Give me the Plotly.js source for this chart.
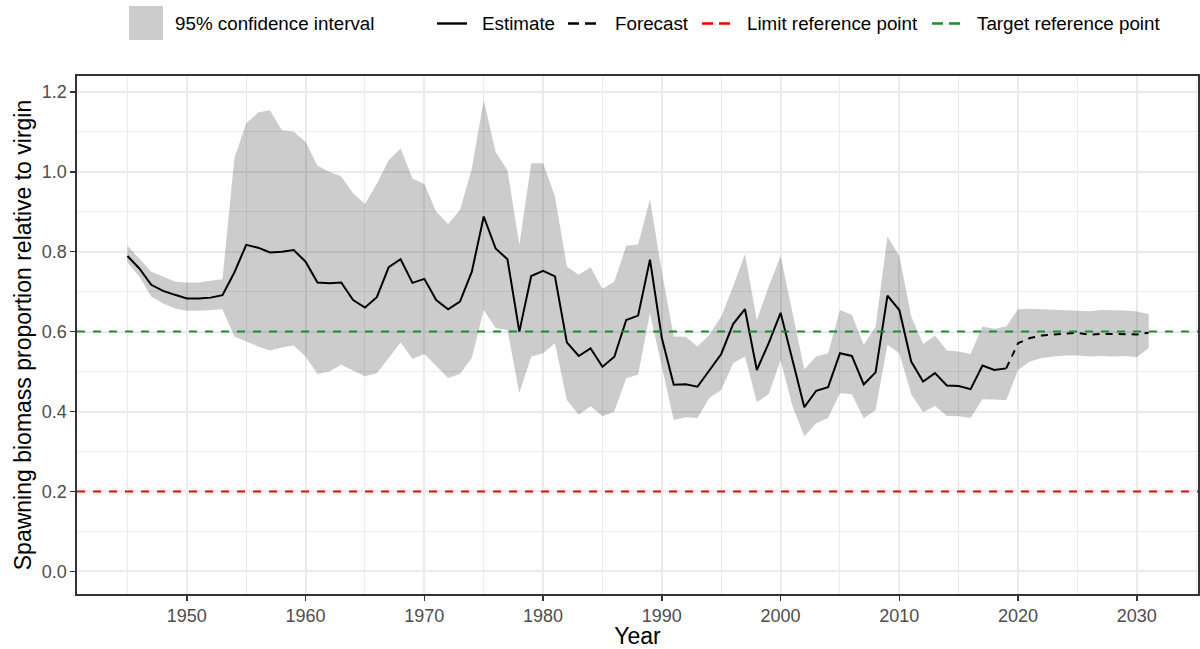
<!DOCTYPE html>
<html>
<head>
<meta charset="utf-8">
<script src="https://cdn.plot.ly/plotly-3.0.1.min.js"></script>
<style>html,body{margin:0;padding:0;background:#fff;}#chart{width:1200px;height:649px;}</style>
</head>
<body>
<div id="chart"></div>
<script>
// ---- data ----
const estYears = [];
for (let y = 1945; y <= 2019; y++) estYears.push(y);
const estimate = [0.789,0.758,0.717,0.702,0.692,0.683,0.683,0.685,0.691,0.748,
  0.817,0.810,0.798,0.800,0.804,0.775,0.723,0.721,0.723,0.679,
  0.660,0.686,0.761,0.781,0.722,0.732,0.679,0.656,0.675,0.750,
  0.888,0.808,0.781,0.600,0.739,0.752,0.738,0.573,0.539,0.558,
  0.512,0.537,0.629,0.640,0.780,0.584,0.467,0.468,0.462,0.504,
  0.544,0.619,0.656,0.504,0.571,0.647,0.525,0.411,0.452,0.461,
  0.546,0.539,0.468,0.498,0.690,0.654,0.525,0.475,0.496,0.465,
  0.464,0.456,0.515,0.504,0.508];
const fcYears = [2020,2021,2022,2023,2024,2025,2026,2027,2028,2029,2030,2031];
const forecast = [0.571,0.584,0.590,0.593,0.595,0.597,0.592,0.594,0.594,0.593,0.593,0.597];
const ciYears = estYears.concat(fcYears);
const ciUpper = [0.815,0.783,0.750,0.738,0.725,0.723,0.723,0.727,0.731,1.033,
  1.121,1.148,1.154,1.104,1.100,1.075,1.015,1.000,0.988,0.946,
  0.919,0.970,1.029,1.058,0.983,0.969,0.900,0.869,0.904,1.008,
  1.179,1.050,1.004,0.817,1.021,1.021,0.938,0.763,0.742,0.761,
  0.707,0.725,0.815,0.818,0.931,0.750,0.588,0.587,0.563,0.592,
  0.638,0.713,0.794,0.629,0.713,0.789,0.646,0.506,0.538,0.546,
  0.654,0.642,0.567,0.613,0.838,0.789,0.638,0.569,0.590,0.553,
  0.550,0.544,0.613,0.607,0.613,
  0.656,0.657,0.656,0.654,0.653,0.653,0.651,0.654,0.653,0.653,0.650,0.644];
const ciLower = [0.773,0.738,0.688,0.670,0.658,0.652,0.652,0.654,0.656,0.588,
  0.575,0.563,0.553,0.560,0.565,0.538,0.494,0.500,0.517,0.502,
  0.488,0.496,0.534,0.573,0.532,0.544,0.514,0.484,0.494,0.534,
  0.654,0.609,0.604,0.446,0.538,0.546,0.571,0.429,0.392,0.413,
  0.388,0.400,0.483,0.492,0.646,0.510,0.379,0.386,0.384,0.434,
  0.454,0.521,0.538,0.423,0.444,0.529,0.413,0.338,0.371,0.384,
  0.446,0.443,0.383,0.404,0.567,0.546,0.443,0.398,0.414,0.389,
  0.388,0.384,0.431,0.430,0.428,
  0.504,0.525,0.534,0.538,0.540,0.540,0.538,0.539,0.538,0.539,0.536,0.559];
const limitRef = 0.2;
const targetRef = 0.6;
const xTicks = [1950,1960,1970,1980,1990,2000,2010,2020,2030];
const yTicks = [0.0,0.2,0.4,0.6,0.8,1.0,1.2];
const legendLabels = ["95% confidence interval","Estimate","Forecast","Limit reference point","Target reference point"];

// ---- layout geometry ----
const W = 1200, H = 649;
const M = {l: 77, r: 2, t: 76, b: 55};
const pw = W - M.l - M.r, ph = H - M.t - M.b;
const px = x => (x - M.l) / pw;
const py = y => (H - M.b - y) / ph;

const FONT = "Liberation Sans, Arial, Helvetica, sans-serif";
const GREEN = "#228B22", RED = "#FF0000";

// forecast line joins the last estimate
const fcX = [estYears[estYears.length-1]].concat(fcYears);
const fcY = [estimate[estimate.length-1]].concat(forecast);

const traces = [
  {x: ciYears, y: ciLower, type: "scatter", mode: "lines", line: {width: 0}, hoverinfo: "skip", showlegend: false},
  {x: ciYears, y: ciUpper, type: "scatter", mode: "lines", line: {width: 0}, fill: "tonexty",
   fillcolor: "rgba(0,0,0,0.2)", showlegend: false, name: legendLabels[0]},
  {x: estYears, y: estimate, type: "scatter", mode: "lines", line: {color: "#000", width: 2}, showlegend: false, name: legendLabels[1]},
  {x: fcX, y: fcY, type: "scatter", mode: "lines", line: {color: "#000", width: 2, dash: "7px,6px"}, showlegend: false, name: legendLabels[2]}
];

const keyY = 23.5;
const keyDash = "11px,6px";
const shapes = [
  {type: "line", xref: "paper", x0: 0, x1: 1, yref: "y", y0: limitRef, y1: limitRef,
   line: {color: RED, width: 2, dash: "8px,8px"}, layer: "above"},
  {type: "line", xref: "paper", x0: 0, x1: 1, yref: "y", y0: targetRef, y1: targetRef,
   line: {color: GREEN, width: 2, dash: "8px,8px"}, layer: "above"},
  // legend keys
  {type: "rect", xref: "paper", yref: "paper", x0: px(129), x1: px(163), y0: py(40), y1: py(6),
   fillcolor: "#CCCCCC", line: {width: 0}},
  {type: "line", xref: "paper", yref: "paper", x0: px(437), x1: px(467), y0: py(keyY), y1: py(keyY),
   line: {color: "#000", width: 2.4}},
  {type: "line", xref: "paper", yref: "paper", x0: px(568), x1: px(596), y0: py(keyY), y1: py(keyY),
   line: {color: "#000", width: 2.4, dash: keyDash}},
  {type: "line", xref: "paper", yref: "paper", x0: px(702), x1: px(730), y0: py(keyY), y1: py(keyY),
   line: {color: RED, width: 2.4, dash: keyDash}},
  {type: "line", xref: "paper", yref: "paper", x0: px(932), x1: px(960), y0: py(keyY), y1: py(keyY),
   line: {color: GREEN, width: 2.4, dash: keyDash}}
];

const legX = [173, 480, 613, 745, 975];
const annotations = legendLabels.map((t, i) => ({
  text: t, xref: "paper", yref: "paper", x: px(legX[i]), y: py(keyY),
  xanchor: "left", yanchor: "middle", showarrow: false,
  font: {family: FONT, size: 18.8, color: "#000"}
}));

const layout = {
  width: W, height: H,
  margin: M,
  paper_bgcolor: "#fff", plot_bgcolor: "#fff",
  font: {family: FONT},
  showlegend: false,
  xaxis: {
    range: [1940.75, 2035.15], tickvals: xTicks, ticktext: xTicks.map(String),
    showgrid: true, gridcolor: "#EBEBEB", gridwidth: 2,
    minor: {dtick: 5, tick0: 1945, showgrid: true, gridcolor: "#EBEBEB", gridwidth: 1},
    showline: true, mirror: true, linecolor: "#333333", linewidth: 1.6,
    ticks: "outside", ticklen: 5, tickwidth: 1.6, tickcolor: "#333333",
    tickfont: {family: FONT, size: 18, color: "#4D4D4D"},
    title: {text: "Year", font: {family: FONT, size: 23, color: "#000"}, standoff: 4},
    zeroline: false, automargin: false
  },
  yaxis: {
    range: [-0.0565, 1.2395], tickvals: yTicks, ticktext: yTicks.map(v => v.toFixed(1)),
    showgrid: true, gridcolor: "#EBEBEB", gridwidth: 2,
    minor: {dtick: 0.1, tick0: 0, showgrid: true, gridcolor: "#EBEBEB", gridwidth: 1},
    showline: true, mirror: true, linecolor: "#333333", linewidth: 1.6,
    ticks: "outside", ticklen: 5, tickwidth: 1.6, tickcolor: "#333333",
    tickfont: {family: FONT, size: 18, color: "#4D4D4D"},
    title: {text: "Spawning biomass proportion relative to virgin", font: {family: FONT, size: 23, color: "#000"}, standoff: 4},
    zeroline: false, automargin: false
  },
  shapes: shapes,
  annotations: annotations
};

Plotly.newPlot("chart", traces, layout, {displayModeBar: false, staticPlot: true});
</script>
</body>
</html>
